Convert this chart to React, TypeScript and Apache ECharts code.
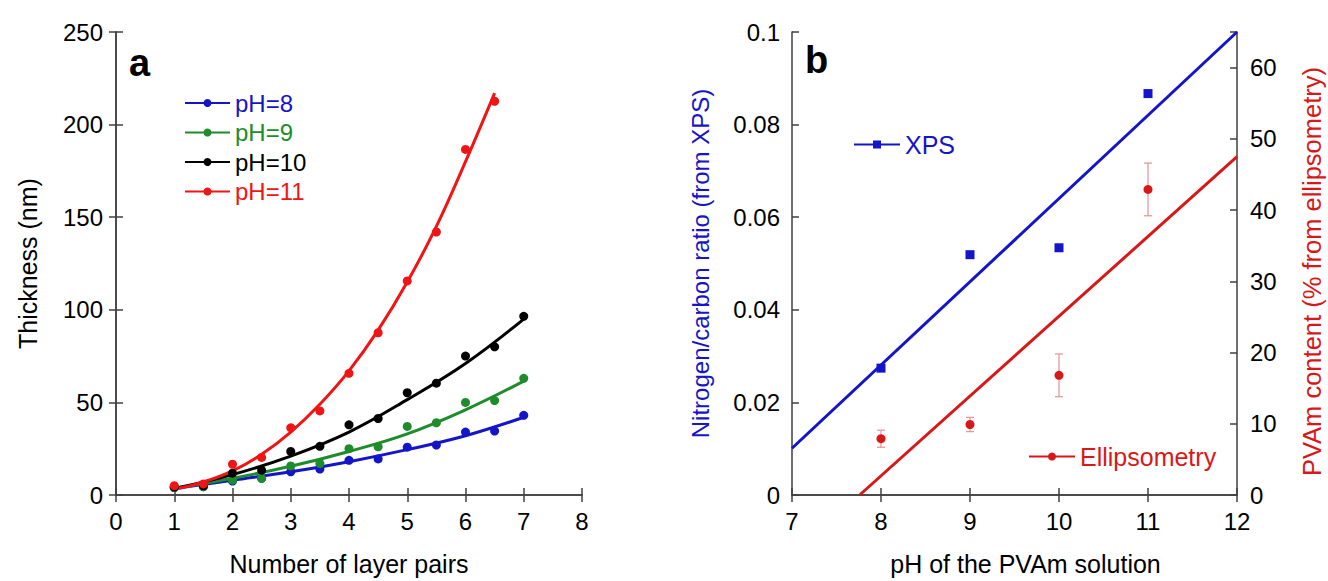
import React, { useEffect, useRef } from "react";
import * as echarts from "echarts";

// ---------- Panel a data ----------
const layerPairs = [1, 1.5, 2, 2.5, 3, 3.5, 4, 4.5, 5, 5.5, 6, 6.5, 7];
const thickPH8 = [4, 4.5, 7.5, 9, 12.5, 14, 18.7, 19.5, 25.8, 27, 34, 34.5, 43];
const thickPH9 = [4, 4.5, 8, 9, 15.7, 17, 25, 26, 37, 39, 50, 51, 63];
const thickPH10 = [4.3, 5, 11.8, 13.4, 23.5, 26.3, 37.9, 41.3, 55.2, 60.4, 75, 80, 96.5];
const thickPH11 = [5, 6, 16.6, 20.3, 36.3, 45.4, 65.7, 87.6, 115.6, 142, 186.6, 212.6];

const fitX = [1, 2, 3, 4, 5, 6, 7];
const fitPH8 = [3.5, 8, 12.5, 18, 24.5, 32, 42];
const fitPH9 = [3.5, 9, 15.5, 23.5, 33, 46, 61.5];
const fitPH10 = [3.5, 11, 21, 34, 51.5, 71, 95];
const fitX11 = [1, 1.5, 2, 2.5, 3, 3.5, 4, 4.5, 5, 5.5, 6, 6.5];
const fitPH11 = [3, 7, 13, 22, 34, 49, 67, 89, 115, 145, 180, 217];

const legendA = ["pH=8", "pH=9", "pH=10", "pH=11"];
const xTicksA = [0, 8, 1];
const yTicksA = [0, 250, 50];

// ---------- Panel b data ----------
const phB = [8, 9, 10, 11];
const xpsRatio = [0.0274, 0.0519, 0.0534, 0.0867];
const ellipContent = [7.9, 9.9, 16.8, 42.9];
const ellipErr = [1.2, 1.0, 3.0, 3.7];
const xpsFitX = [7, 12];
const xpsFitY = [0.0101, 0.1];
const ellipFitX = [7.76, 12];
const ellipFitY = [0, 47.5];

const FONT = "'Liberation Sans', Arial, Helvetica, sans-serif";
const BLUE = "#1414c8";
const GREEN = "#1e8c2a";
const RED = "#f01414";
const BLACK = "#000000";
const RED_B = "#d81818";
const AXIS = "#404040";

const zip = (xs: number[], ys: number[]) => ys.map((y, i) => [xs[i], y]);

export default function App() {
  const ref = useRef<HTMLDivElement>(null);
  useEffect(() => {
    if (!ref.current) return;
    const chart = echarts.init(ref.current, undefined, { renderer: "svg" });

    const axisLine = { show: true, lineStyle: { color: AXIS, width: 1.5 } };
    const tickIn = { show: true, inside: true, length: 7, lineStyle: { color: AXIS, width: 1.5 } };
    const label = { color: "#000", fontSize: 24, fontFamily: FONT };
    const nameStyle = { color: "#000", fontSize: 25, fontFamily: FONT };

    const colorsA = [BLUE, GREEN, BLACK, RED];
    const pointsA = [thickPH8, thickPH9, thickPH10, thickPH11];
    const fitsA = [
      zip(fitX, fitPH8),
      zip(fitX, fitPH9),
      zip(fitX, fitPH10),
      zip(fitX11, fitPH11),
    ];

    const seriesA: any[] = [];
    legendA.forEach((name, i) => {
      seriesA.push({
        name: name + " fit",
        type: "line",
        xAxisIndex: 0,
        yAxisIndex: 0,
        data: fitsA[i],
        smooth: 0.4,
        showSymbol: false,
        symbol: "none",
        lineStyle: { color: colorsA[i], width: 3 },
        z: 2,
      });
      seriesA.push({
        name: name + " data",
        type: "scatter",
        xAxisIndex: 0,
        yAxisIndex: 0,
        data: zip(layerPairs, pointsA[i]),
        symbol: "circle",
        symbolSize: 9,
        itemStyle: { color: colorsA[i], opacity: 1 },
        z: 3,
      });
      // legend proxy
      seriesA.push({
        name,
        type: "line",
        xAxisIndex: 0,
        yAxisIndex: 0,
        data: [],
        symbol: "circle",
        itemStyle: { color: colorsA[i] },
        lineStyle: { color: colorsA[i], width: 2.5 },
      });
    });

    const errData = phB.map((x, i) => [x, ellipContent[i] - ellipErr[i], ellipContent[i] + ellipErr[i]]);

    const option: any = {
      animation: false,
      grid: [
        { left: 116, top: 32, width: 466, height: 468 },
        { left: 792, top: 32, width: 445, height: 468 },
      ],
      xAxis: [
        {
          gridIndex: 0, type: "value", min: xTicksA[0], max: xTicksA[1], interval: xTicksA[2],
          axisLine, axisTick: tickIn, splitLine: { show: false },
          axisLabel: { ...label, margin: 14 },
          name: "Number of layer pairs", nameLocation: "middle", nameGap: 56, nameTextStyle: nameStyle,
        },
        {
          gridIndex: 0, type: "value", position: "top", min: xTicksA[0], max: xTicksA[1], interval: xTicksA[2],
          axisLine, axisTick: tickIn, splitLine: { show: false }, axisLabel: { show: false },
        },
        {
          gridIndex: 1, type: "value", min: 7, max: 12, interval: 1,
          axisLine, axisTick: tickIn, splitLine: { show: false },
          axisLabel: { ...label, margin: 14 },
          name: "pH of the PVAm solution", nameLocation: "middle", nameGap: 56,
          nameTextStyle: { ...nameStyle, padding: [0, 0, 0, 22] },
        },
        {
          gridIndex: 1, type: "value", position: "top", min: 7, max: 12, interval: 1,
          axisLine, axisTick: tickIn, splitLine: { show: false }, axisLabel: { show: false },
        },
      ],
      yAxis: [
        {
          gridIndex: 0, type: "value", min: yTicksA[0], max: yTicksA[1], interval: yTicksA[2],
          axisLine, axisTick: tickIn, splitLine: { show: false },
          axisLabel: { ...label, margin: 13 },
          name: "Thickness (nm)", nameLocation: "middle", nameGap: 76, nameTextStyle: nameStyle,
        },
        {
          gridIndex: 0, type: "value", position: "right", min: yTicksA[0], max: yTicksA[1], interval: yTicksA[2],
          axisLine, axisTick: tickIn, splitLine: { show: false }, axisLabel: { show: false },
        },
        {
          gridIndex: 1, type: "value", min: 0, max: 0.1, interval: 0.02,
          axisLine, axisTick: tickIn, splitLine: { show: false },
          axisLabel: { ...label, margin: 12 },
          name: "Nitrogen/carbon ratio (from XPS)", nameLocation: "middle", nameGap: 80,
          nameTextStyle: { ...nameStyle, color: BLUE, fontSize: 24 },
        },
        {
          gridIndex: 1, type: "value", position: "right", min: 0, max: 65, interval: 10,
          axisLine, axisTick: tickIn, splitLine: { show: false },
          axisLabel: { ...label, margin: 13, formatter: (v: number) => (v % 10 === 0 ? String(v) : "") },
          name: "PVAm content (% from ellipsometry)", nameLocation: "middle", nameGap: 62, nameRotate: 90,
          nameTextStyle: { ...nameStyle, color: RED_B, fontSize: 25.5, padding: [0, 16, 0, 0] },
        },
      ],
      legend: [
        {
          orient: "vertical", left: 184, top: 91, itemWidth: 45, itemHeight: 10, itemGap: 5.5, padding: 0,
          selectedMode: false,
          data: legendA.map((n, i) => ({ name: n, textStyle: { color: colorsA[i], fontSize: 24, fontFamily: FONT } })),
        },
        {
          left: 853, top: 132, itemWidth: 46, itemHeight: 10, padding: 0, selectedMode: false,
          data: [{ name: "XPS", textStyle: { color: BLUE, fontSize: 25, fontFamily: FONT } }],
        },
        {
          left: 1028, top: 444, itemWidth: 46, itemHeight: 10, padding: 0, selectedMode: false,
          data: [{ name: "Ellipsometry", textStyle: { color: RED_B, fontSize: 25, fontFamily: FONT } }],
        },
      ],
      graphic: [
        { type: "text", left: 129, top: 44, style: { text: "a", fontSize: 38, fontWeight: "bold", fontFamily: FONT, fill: "#000" } },
        { type: "text", left: 805, top: 41, style: { text: "b", fontSize: 38, fontWeight: "bold", fontFamily: FONT, fill: "#000" } },
      ],
      series: [
        ...seriesA,
        {
          name: "XPS fit", type: "line", xAxisIndex: 2, yAxisIndex: 2,
          data: zip(xpsFitX, xpsFitY), symbol: "none", lineStyle: { color: BLUE, width: 3 }, z: 2,
        },
        {
          name: "XPS data", type: "scatter", xAxisIndex: 2, yAxisIndex: 2,
          data: zip(phB, xpsRatio), symbol: "rect", symbolSize: 9, itemStyle: { color: BLUE, opacity: 1 }, z: 3,
        },
        {
          name: "XPS", type: "line", xAxisIndex: 2, yAxisIndex: 2, data: [], symbol: "rect",
          itemStyle: { color: BLUE }, lineStyle: { color: BLUE, width: 2.5 },
        },
        {
          name: "Ellipsometry fit", type: "line", xAxisIndex: 2, yAxisIndex: 3,
          data: zip(ellipFitX, ellipFitY), symbol: "none", lineStyle: { color: RED_B, width: 3 }, z: 2,
        },
        {
          name: "Ellipsometry err", type: "custom", xAxisIndex: 2, yAxisIndex: 3, data: errData, z: 3,
          renderItem: (params: any, api: any) => {
            const x = api.value(0);
            const lo = api.coord([x, api.value(1)]);
            const hi = api.coord([x, api.value(2)]);
            const st = { stroke: "#e79a9a", lineWidth: 1.3 };
            const w = 4;
            return {
              type: "group",
              children: [
                { type: "line", shape: { x1: lo[0], y1: lo[1], x2: hi[0], y2: hi[1] }, style: st },
                { type: "line", shape: { x1: lo[0] - w, y1: lo[1], x2: lo[0] + w, y2: lo[1] }, style: st },
                { type: "line", shape: { x1: hi[0] - w, y1: hi[1], x2: hi[0] + w, y2: hi[1] }, style: st },
              ],
            };
          },
        },
        {
          name: "Ellipsometry data", type: "scatter", xAxisIndex: 2, yAxisIndex: 3,
          data: zip(phB, ellipContent), symbol: "circle", symbolSize: 9, itemStyle: { color: RED_B, opacity: 1 }, z: 4,
        },
        {
          name: "Ellipsometry", type: "line", xAxisIndex: 2, yAxisIndex: 3, data: [], symbol: "circle",
          itemStyle: { color: RED_B }, lineStyle: { color: RED_B, width: 2.5 },
        },
      ],
    };
    chart.setOption(option);
    return () => chart.dispose();
  }, []);
  return (
    <div
      ref={ref}
      style={{ position: "fixed", left: 0, top: 0, width: 1328, height: 581, background: "#fff" }}
    />
  );
}
